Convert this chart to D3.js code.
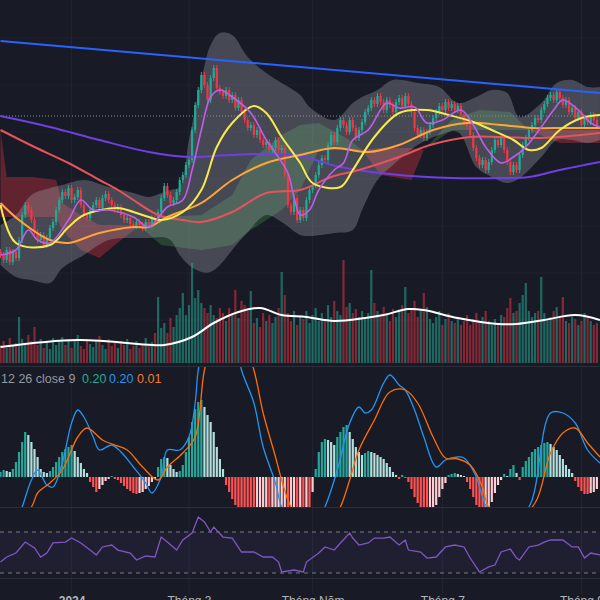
<!DOCTYPE html>
<html><head><meta charset="utf-8">
<script src="https://cdn.jsdelivr.net/npm/d3@7"></script>
<style>html,body{margin:0;padding:0;background:#181a25;overflow:hidden}svg{display:block}</style>
</head><body><svg id="c" width="600" height="600"></svg>
<script>
// ---------- DATA ----------
const closes = [14.5,14.0,15.0,13.8,14.8,14.2,16.0,18.5,19.5,19.0,
18.0,16.8,16.0,16.5,15.5,16.2,17.2,17.8,19.0,20.0,
20.8,20.4,21.2,20.0,20.3,21.0,19.5,18.5,18.2,19.0,
19.5,20.0,19.2,20.2,20.6,20.0,19.5,19.0,19.3,18.5,
18.0,18.2,17.6,17.4,17.8,17.5,17.2,17.8,17.5,18.2,
18.0,18.8,20.2,21.4,20.5,19.7,20.0,20.8,22.0,22.5,
23.5,24.0,27.0,29.5,31.0,32.5,31.5,30.0,32.2,33.2,
31.2,30.8,30.4,31.0,30.0,30.5,29.2,30.0,28.8,28.0,
27.2,27.5,26.5,27.0,26.0,25.5,25.8,25.0,25.2,26.0,
25.0,25.2,22.5,19.5,18.8,20.2,18.0,19.0,18.2,20.0,
21.0,21.5,22.5,23.5,24.2,24.0,25.5,26.5,25.8,27.2,
28.0,27.5,26.8,28.0,27.2,26.2,27.0,27.8,28.8,29.2,
30.0,29.6,30.4,29.8,29.0,30.0,29.5,28.8,29.8,30.2,
29.4,30.4,29.6,28.8,27.2,26.5,27.0,26.2,26.8,27.5,
28.2,28.8,29.4,29.0,29.8,29.2,29.6,29.0,29.4,28.5,
27.8,27.4,26.5,25.2,24.2,23.5,24.0,23.0,23.8,25.0,
26.0,25.5,26.2,25.0,23.8,22.8,23.5,23.0,24.5,25.5,
26.2,27.0,27.5,28.2,28.0,29.0,29.6,30.2,30.5,30.0,
30.8,30.2,29.5,30.0,28.8,29.2,28.2,28.8,27.5,28.2,
27.8,28.5,28.0,27.5];
const firstOpen = 14.8;
const volumes = [1.8,2.2,1.5,2.5,1.7,2.0,4.6,2.4,1.8,2.8,
2.2,3.6,1.8,2.4,1.5,2.0,1.4,2.5,1.8,2.2,
2.6,1.8,2.4,1.5,2.2,2.8,1.7,1.4,2.4,1.9,
1.6,2.2,2.7,1.8,1.4,2.4,1.7,2.0,1.5,2.2,
1.8,2.4,1.4,1.7,2.2,1.5,1.9,2.5,1.7,2.1,
3.0,6.6,3.5,4.0,3.0,4.5,3.6,4.8,5.5,7.0,
4.8,5.8,10.0,6.5,7.3,6.0,5.5,5.0,5.8,4.8,
4.5,5.5,5.0,4.2,5.5,4.8,7.3,4.5,6.2,5.8,
5.2,7.2,4.0,4.5,3.6,5.0,4.2,4.8,4.0,4.6,
5.5,9.1,6.8,5.0,4.2,5.2,3.8,4.6,4.4,5.2,
4.0,4.8,5.5,4.2,5.0,4.4,5.8,4.6,6.2,5.2,
4.8,10.3,5.6,6.0,5.0,5.4,4.6,5.2,4.4,5.0,
9.3,6.0,5.2,4.6,5.6,5.0,4.2,5.4,4.6,5.2,
5.8,7.6,5.0,5.4,6.2,4.6,5.2,7.0,5.6,4.4,
4.0,4.6,5.2,3.8,4.4,5.0,4.2,4.0,4.6,3.8,
4.2,4.8,3.8,4.4,5.0,4.0,4.6,5.2,4.2,3.8,
4.4,4.0,4.8,4.6,5.5,6.5,5.0,5.2,6.0,6.8,
8.0,5.2,4.6,5.0,5.2,8.6,5.0,4.4,4.6,5.2,
5.6,4.6,6.6,4.2,4.0,4.6,4.4,3.8,4.2,5.0,
4.6,4.2,3.8,4.0];
const volumeMA = [[0,1.6],[25,2.3],[49,1.8],[53,1.8],[62,2.6],[69,4.0],[77,5.1],[84,5.5],[91,4.8],[99,4.6],[108,4.2],[118,4.5],[124,4.8],[132,5.4],[137,5.3],[148,4.5],[161,3.9],[167,3.9],[176,4.3],[186,4.8],[194,4.3]];
const ma200 = [[0,28.4],[16,27.3],[32,26.0],[48,24.8],[61,24.3],[74,24.5],[87,24.6],[97,24.4],[110,23.3],[129,22.5],[146,22.2],[162,22.2],[171,22.3],[181,23.0],[194,23.8]];
const ma100 = [[0,27.0],[11,25.3],[22,23.7],[32,22.0],[38,21.0],[43,20.0],[51,18.5],[59,18.0],[65,17.8],[75,18.8],[86,20.7],[97,21.0],[107,22.3],[116,23.0],[129,24.3],[139,25.5],[152,26.3],[162,26.3],[175,26.2],[194,26.7]];
const ma50 = [[0,19.7],[6,18.0],[16,16.0],[22,15.7],[32,16.7],[43,17.3],[48,17.3],[54,18.3],[65,19.7],[75,22.0],[86,23.7],[97,24.5],[108,25.2],[119,24.8],[129,25.5],[140,27.0],[151,27.7],[162,27.5],[172,27.2],[183,27.2],[194,27.2]];
const ma20 = [[0,19.5],[5,15.7],[16,15.5],[22,17.3],[27,18.5],[38,19.2],[43,18.8],[48,18.3],[52,18.0],[59,18.8],[65,21.0],[70,25.3],[75,27.7],[82,29.4],[86,28.7],[91,26.3],[97,23.7],[101,21.7],[110,21.3],[114,23.0],[121,26.3],[129,28.7],[138,29.0],[145,28.5],[153,27.8],[159,27.0],[166,26.0],[171,25.0],[175,25.2],[181,27.0],[188,28.2],[194,28.5]];
const ema10 = [[0,14.5],[5,15.0],[9,17.0],[12,16.0],[16,15.7],[22,18.0],[26,20.0],[30,19.0],[35,19.0],[43,18.3],[48,17.3],[54,19.3],[59,20.0],[62,23.0],[65,27.0],[68,30.3],[71,31.0],[75,30.3],[81,28.7],[86,26.0],[89,24.7],[93,22.7],[95,20.3],[97,18.5],[100,19.0],[103,21.0],[108,23.0],[111,23.7],[114,26.0],[119,27.0],[125,29.7],[129,29.2],[134,29.3],[138,27.7],[143,28.0],[149,29.0],[153,27.5],[157,25.3],[162,23.7],[166,24.3],[170,25.3],[175,27.3],[179,29.0],[182,30.0],[187,29.0],[191,27.7],[194,27.3]];
const bbIdx = [0,5,10,16,20,27,35,43,48,52,55,58,61,65,68,71,75,80,86,91,97,100,108,114,117,122,127,135,142,148,154,159,164,168,175,180,185,190,194];
const bbUpper = [17.5,18.5,20.5,21.2,21.5,22.0,21.3,20.7,20.3,20.7,21.0,21.3,26.0,32.0,35.5,36.7,36.5,34.3,32.7,31.7,30.5,29.3,28.0,29.7,30.3,31.0,32.0,31.7,31.3,29.7,30.3,31.0,30.7,28.3,29.7,31.7,32.0,31.3,31.3];
const bbLower = [13.5,12.3,12.0,11.7,13.2,14.5,16.0,16.2,16.2,16.3,16.0,14.5,13.5,12.8,12.8,13.5,15.0,16.8,18.5,17.8,16.5,16.4,16.7,17.0,19.0,22.0,23.5,25.5,26.5,26.8,23.3,22.3,21.7,22.2,24.3,26.0,26.0,25.7,26.0];
const cloudIdx = [0,2,10,18,20,26,32,39,45,52,65,75,81,91,97,103,113,117,123,133,137,146,155,165,171,181,194];
const spanA = [18.3,18.3,18.3,18.3,17.0,15.0,14.2,16.0,17.4,18.3,18.5,20.5,24.0,26.5,27.5,27.7,26.0,25.0,22.5,22.0,25.0,28.0,29.0,28.8,27.0,25.7,25.7];
const spanB = [27.0,22.3,22.3,22.0,19.7,18.5,17.5,17.5,17.4,15.5,15.0,15.5,17.0,19.0,21.0,25.0,25.0,25.0,25.2,25.2,25.0,27.0,27.0,27.0,27.0,27.0,27.0];
const trendLine = [[0,35.9],[194,30.7]];
const refPrice = 28.4;
const macdHist = [0.10,0.14,0.12,0.10,0.16,0.30,0.50,0.70,0.90,
0.84,0.70,0.56,0.40,0.16,0.10,0.08,0.12,
0.20,0.30,0.40,0.50,0.56,0.60,0.64,0.52,0.40,0.28,0.16,0.08,
-0.10,-0.20,-0.30,-0.24,-0.16,-0.08,-0.04,0.02,-0.04,-0.06,
-0.12,-0.18,-0.24,-0.28,-0.32,-0.34,-0.32,-0.30,-0.24,-0.18,-0.10,-0.04,
0.20,0.36,0.40,0.38,0.24,0.16,0.10,0.12,0.24,
0.50,0.80,1.10,1.36,1.50,1.54,1.40,1.24,1.10,0.90,0.60,0.36,0.16,
-0.16,-0.30,-0.44,-0.56,-0.64,-0.72,-0.80,-0.84,
-0.90,-0.90,-0.88,-0.84,-0.80,-0.76,-0.76,-0.72,-0.70,-0.68,-0.66,-0.64,-0.64,
-0.63,-0.62,-0.62,-0.61,-0.61,-0.60,-0.60,-0.30,
0.16,0.50,0.70,0.76,0.74,0.70,0.64,0.80,0.90,1.00,1.04,0.90,0.76,0.60,0.50,0.44,0.48,0.52,0.50,0.48,0.44,0.40,0.36,0.28,0.20,0.10,0.04,
-0.04,0.04,-0.02,
-0.10,-0.24,-0.40,-0.52,-0.60,-0.68,-0.72,-0.70,-0.64,-0.56,-0.40,-0.24,-0.12,
0.04,0.06,0.08,0.06,0.04,0.02,
-0.10,-0.24,-0.40,-0.56,-0.66,-0.72,-0.70,-0.64,-0.50,-0.32,-0.16,-0.06,
0.06,0.02,
0.16,0.24,0.08,-0.06,0.20,0.32,0.40,0.50,0.56,0.60,0.64,0.68,0.70,0.66,0.60,0.54,0.44,0.36,0.24,0.16,0.08,
-0.08,-0.20,-0.28,-0.34,-0.34,-0.32,-0.30,-0.24];
const macdLine = [[0,-1.0],[5,-0.9],[7,-0.60],[10,-0.06],[12,0.14],[15,-0.16],[17,-0.20],[20,0.28],[23,1.08],[25,1.34],[27,1.20],[30,0.80],[32,0.54],[36,0.64],[39,0.50],[43,0.20],[47,-0.12],[49,-0.32],[52,0.0],[54,0.54],[58,0.54],[61,0.80],[63,1.48],[64,2.14],[67,3.0],[71,3.4],[75,3.0],[78,2.14],[82,1.48],[85,0.60],[89,-0.12],[91,-0.60],[97,-1.3],[100,-1.2],[105,-0.60],[109,0.14],[113,1.08],[116,1.40],[118,1.28],[120,1.34],[124,1.88],[126,2.04],[129,1.84],[131,1.74],[134,1.34],[137,0.80],[141,0.20],[144,0.34],[148,0.40],[150,0.38],[154,0.0],[156,-0.40],[158,-0.66],[165,-0.86],[171,-0.60],[178,1.28],[182,1.28],[186,1.08],[190,0.54],[194,0.28]];
const signalLine = [[0,-1.2],[10,-0.60],[12,-0.32],[16,-0.12],[20,0.14],[25,0.80],[28,0.98],[33,0.74],[37,0.64],[41,0.54],[46,0.20],[51,-0.06],[54,0.20],[59,0.48],[63,0.80],[66,2.14],[70,3.0],[73,3.2],[77,3.0],[82,2.14],[85,1.28],[89,0.40],[91,-0.06],[94,-0.60],[100,-1.1],[106,-1.0],[110,-0.60],[113,-0.06],[116,0.54],[121,1.14],[126,1.70],[131,1.74],[135,1.48],[140,0.80],[144,0.38],[148,0.36],[152,0.24],[156,-0.20],[158,-0.60],[166,-0.9],[173,-0.52],[178,0.48],[182,0.88],[186,0.98],[190,0.68],[194,0.40]];
const rsiLine = [[0,40.7],[2,45.6],[5,49.5],[8,60.2],[11,54.4],[13,45.6],[15,49.5],[17,59.3],[21,60.2],[23,64.1],[26,59.3],[29,52.4],[31,47.6],[33,55.4],[36,57.3],[38,52.4],[42,49.5],[44,42.7],[47,46.6],[50,45.6],[52,65.1],[54,60.2],[57,52.4],[59,62.2],[62,69.0],[64,84.6],[66,79.8],[68,70.0],[69,74.9],[72,65.1],[75,64.1],[78,50.5],[82,50.5],[85,45.6],[88,45.6],[90,40.7],[91,31.0],[95,32.9],[98,31.0],[99,40.7],[103,49.5],[105,55.4],[108,52.4],[110,59.3],[113,69.0],[114,64.1],[116,57.3],[119,59.3],[121,64.1],[124,64.1],[126,65.1],[129,57.3],[131,62.2],[132,52.4],[136,50.5],[138,44.6],[141,45.6],[144,55.4],[147,57.3],[150,55.4],[152,44.6],[155,31.0],[158,35.9],[160,37.8],[162,50.5],[165,53.4],[167,44.6],[168,42.7],[171,55.4],[174,57.3],[176,60.2],[178,62.2],[182,62.2],[185,55.4],[187,55.4],[189,44.6],[191,49.5],[194,47.6]];
const rsiLevels = [70, 30];
const tickIndex = [23, 61, 101, 143, 188];
const tickLabels = ["2024", "Tháng 3", "Tháng Năm", "Tháng 7", "Tháng 9"];
const gridPrices = [36.2, 31.5, 26.8, 22.1, 17.4, 12.7, 8.0];
const legendText = "12 26 close 9";
const legendValues = ["0.20", "0.20", "0.01"];

// ---------- SCALES ----------
const svg = d3.select("#c");
const N = closes.length;
const STEP = 3.09;
const x = d3.scaleLinear().domain([0, N - 1]).range([0.5, 0.5 + (N - 1) * STEP]);
const yP = d3.scaleLinear().domain([10, 40]).range([300, 0]);
const yV = d3.scaleLinear().domain([0, 11]).range([363, 253]);
const yM = d3.scaleLinear().domain([-0.6, 2.2]).range([507, 367]);
const yR = d3.scaleLinear().domain([30, 70]).range([573, 532]);
const opens = closes.map((c, i) => i ? closes[i - 1] : firstOpen);

const UP = "#22ab94", DN = "#f23645";
const bg = "#181a25";
svg.append("rect").attr("width", 600).attr("height", 600).attr("fill", bg);

const defs = svg.append("defs");
defs.append("clipPath").attr("id", "cMain").append("rect").attr("x", 0).attr("y", 0).attr("width", 600).attr("height", 366);
defs.append("clipPath").attr("id", "cMacd").append("rect").attr("x", 0).attr("y", 367).attr("width", 600).attr("height", 140);
defs.append("clipPath").attr("id", "cRsi").append("rect").attr("x", 0).attr("y", 508).attr("width", 600).attr("height", 70);

// grid
const grid = svg.append("g");
grid.selectAll("line.v").data(tickIndex).join("line")
  .attr("x1", d => x(d)).attr("x2", d => x(d)).attr("y1", 0).attr("y2", 594)
  .attr("stroke", "#222533").attr("stroke-width", 1);
grid.selectAll("line.h").data(gridPrices).join("line")
  .attr("x1", 0).attr("x2", 600).attr("y1", d => yP(d)).attr("y2", d => yP(d))
  .attr("stroke", "#1f2230").attr("stroke-width", 1);

// ---------- MAIN PANE ----------
const main = svg.append("g").attr("clip-path", "url(#cMain)");

// Ichimoku cloud
const cloud = cloudIdx.map((d, k) => ({ i: d, a: spanA[k], b: spanB[k], m: Math.max(spanA[k], spanB[k]) }));
main.append("path").datum(cloud)
  .attr("d", d3.area().x(d => x(d.i)).y0(d => yP(d.b)).y1(d => yP(d.m)))
  .attr("fill", "rgba(76,175,80,0.28)");
main.append("path").datum(cloud)
  .attr("d", d3.area().x(d => x(d.i)).y0(d => yP(d.a)).y1(d => yP(d.m)))
  .attr("fill", "rgba(242,54,69,0.33)");

// Bollinger band
const bb = bbIdx.map((d, k) => ({ i: d, u: bbUpper[k], l: bbLower[k] }));
main.append("path").datum(bb)
  .attr("d", d3.area().curve(d3.curveCatmullRom.alpha(0.5)).x(d => x(d.i)).y0(d => yP(d.l)).y1(d => yP(d.u)))
  .attr("fill", "rgba(180,182,192,0.30)");

// volume
main.selectAll("rect.vol").data(volumes).join("rect")
  .attr("x", (d, i) => x(i) - 1.1).attr("width", 2.2)
  .attr("y", d => yV(d)).attr("height", d => yV(0) - yV(d))
  .attr("fill", (d, i) => closes[i] >= opens[i] ? "rgba(34,171,148,0.55)" : "rgba(242,54,69,0.5)");
main.append("path").datum(volumeMA)
  .attr("d", d3.line().curve(d3.curveCatmullRom.alpha(0.5)).x(d => x(d[0])).y(d => yV(d[1])))
  .attr("fill", "none").attr("stroke", "#ffffff").attr("stroke-width", 2);

// reference dotted line
main.append("line").attr("x1", 0).attr("x2", 600).attr("y1", yP(refPrice)).attr("y2", yP(refPrice))
  .attr("stroke", "#8a8d96").attr("stroke-width", 1).attr("stroke-dasharray", "1,2");

// candles
const cg = main.append("g");
closes.forEach((c, i) => {
  const o = opens[i];
  const hi = Math.max(o, c) + 0.3, lo = Math.min(o, c) - 0.3;
  const col = c >= o ? UP : DN;
  cg.append("line").attr("x1", x(i)).attr("x2", x(i)).attr("y1", yP(hi)).attr("y2", yP(lo))
    .attr("stroke", col).attr("stroke-width", 1);
  const top = yP(Math.max(o, c)), bot = yP(Math.min(o, c));
  cg.append("rect").attr("x", x(i) - 1.1).attr("width", 2.2).attr("y", top).attr("height", Math.max(1, bot - top)).attr("fill", col);
});

// moving averages
const lineGen = d3.line().curve(d3.curveCatmullRom.alpha(0.5)).x(d => x(d[0])).y(d => yP(d[1]));
[[ma200, "#6f3fe6", 2], [ma100, "#e8525c", 2], [ma50, "#ffa53a", 2], [ma20, "#f6ea4f", 2], [ema10, "#bf5fe8", 1.6]].forEach(([s, col, w]) => {
  main.append("path").datum(s).attr("d", lineGen).attr("fill", "none").attr("stroke", col).attr("stroke-width", w);
});
main.append("path").datum(trendLine).attr("d", d3.line().x(d => x(d[0])).y(d => yP(d[1])))
  .attr("fill", "none").attr("stroke", "#2962ff").attr("stroke-width", 2);

// ---------- MACD PANE ----------
const macd = svg.append("g").attr("clip-path", "url(#cMacd)");
macd.selectAll("rect").data(macdHist).join("rect")
  .attr("x", (d, i) => x(i) - 1.1).attr("width", 2.2)
  .attr("y", d => Math.min(yM(d), yM(0))).attr("height", d => Math.max(0.8, Math.abs(yM(d) - yM(0))))
  .attr("fill", (d, i) => {
    const p = i ? macdHist[i - 1] : d;
    if (d >= 0) return d >= p ? "#26a69a" : "#b2dfdb";
    return d <= p ? "#ff5252" : "#ffcdd2";
  });
const mLine = d3.line().curve(d3.curveCatmullRom.alpha(0.5)).x(d => x(d[0])).y(d => yM(d[1]));
macd.append("path").datum(macdLine).attr("d", mLine).attr("fill", "none").attr("stroke", "#2196f3").attr("stroke-width", 1.3);
macd.append("path").datum(signalLine).attr("d", mLine).attr("fill", "none").attr("stroke", "#ff6d00").attr("stroke-width", 1.3);

const lg = svg.append("g").attr("font-family", "Liberation Sans, Arial, sans-serif").attr("font-size", 12.5);
lg.append("text").attr("x", 1).attr("y", 383).attr("fill", "#9598a1").text(legendText);
[["#22ab94", 82], ["#2196f3", 109], ["#f57c2c", 137]].forEach(([c, px], k) => {
  lg.append("text").attr("x", px).attr("y", 383).attr("fill", c).text(legendValues[k]);
});

// ---------- RSI PANE ----------
const rsi = svg.append("g").attr("clip-path", "url(#cRsi)");
rsi.append("rect").attr("x", 0).attr("width", 600).attr("y", yR(70)).attr("height", yR(30) - yR(70)).attr("fill", "rgba(126,87,194,0.09)");
rsi.selectAll("line.lv").data(rsiLevels).join("line")
  .attr("x1", 0).attr("x2", 600).attr("y1", d => yR(d)).attr("y2", d => yR(d))
  .attr("stroke", "#787b86").attr("stroke-width", 1).attr("stroke-dasharray", "4,4");
rsi.append("path").datum(rsiLine).attr("d", d3.line().x(d => x(d[0])).y(d => yR(d[1])))
  .attr("fill", "none").attr("stroke", "#7e57c2").attr("stroke-width", 1.3);

// pane separators
[366.5, 507.5, 578.5].forEach(v => svg.append("line").attr("x1", 0).attr("x2", 600).attr("y1", v).attr("y2", v).attr("stroke", "#2a2e39"));

// ---------- TIME AXIS ----------
const ax = svg.append("g").attr("transform", "translate(0,594)")
  .call(d3.axisBottom(x).tickValues(tickIndex).tickFormat((d, i) => tickLabels[i]).tickSize(0).tickPadding(0));
ax.select(".domain").remove();
ax.selectAll("text").attr("fill", "#b2b5be").attr("font-size", 12).attr("font-family", "Liberation Sans, Arial, sans-serif")
  .attr("dy", "0.95em").attr("font-weight", (d, i) => i === 0 ? "bold" : "normal");
</script></body></html>
